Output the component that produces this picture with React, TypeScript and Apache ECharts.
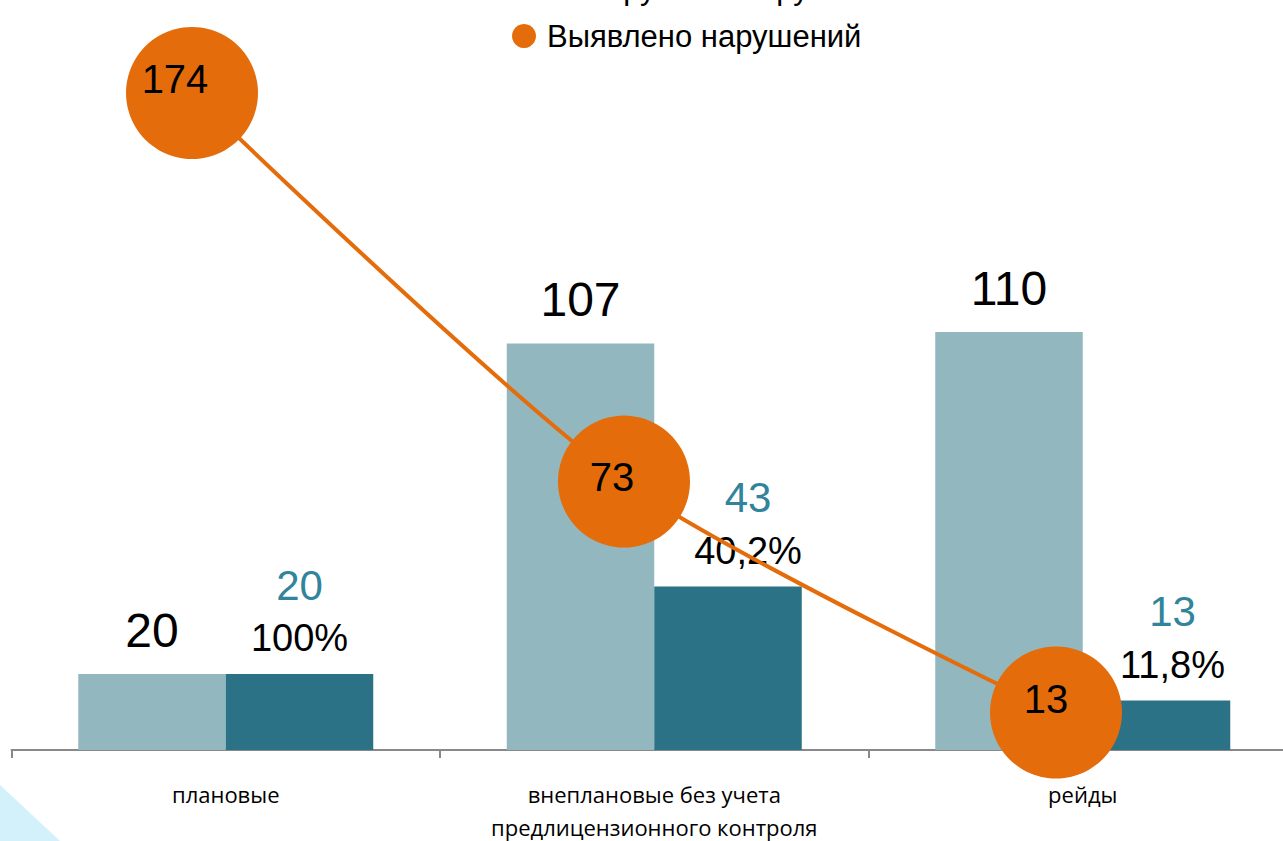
import React, { useEffect, useRef } from 'react';
import * as echarts from 'echarts';

const categories = ['плановые', 'внеплановые без учета\nпредлицензионного контроля', 'рейды'];
const inspections = [20, 107, 110];
const withViolations = [20, 43, 13];
const shareLabels = ['100%', '40,2%', '11,8%'];
const violations = [174, 73, 13];
const seriesNames = ['Проведено проверок', 'Обнаружены нарушения', 'Выявлено нарушений'];

const numFont = '"Liberation Sans", Arial, sans-serif';
const darkShift = [0, 20, 16];
const circleLabelShift = [[-17, -14], [-12, -5], [-10, -13]];
const smallSquare = 'path://M0,0M24,24M5,5h14v14h-14z';

function buildOption() {
  return {
    animation: false,
    backgroundColor: '#ffffff',
    graphic: [
      {
        type: 'polygon',
        z: -10,
        shape: { points: [[0, 785], [60, 841], [0, 841]] },
        style: { fill: '#D3F1FB' },
      },
    ],
    legend: {
      orient: 'vertical',
      left: 507,
      top: -81,
      itemWidth: 36,
      itemHeight: 24,
      itemGap: 16,
      selectedMode: false,
      textStyle: { fontSize: 31, fontFamily: numFont, color: '#000', lineHeight: 32 },
      data: [
        { name: seriesNames[0], icon: smallSquare },
        { name: seriesNames[1], icon: smallSquare },
        { name: seriesNames[2], icon: 'circle' },
      ],
    },
    grid: [
      { left: 11.5, width: 1285.5, top: 66, bottom: 91, containLabel: false, outerBoundsMode: 'none' },
      { left: -24, width: 1296, top: 69.9, bottom: 78.5, containLabel: false, outerBoundsMode: 'none' },
    ],
    xAxis: [
      {
        type: 'category',
        gridIndex: 0,
        data: categories,
        axisLine: { lineStyle: { color: '#898989', width: 2 } },
        axisTick: { show: true, length: 8, lineStyle: { color: '#898989', width: 2 } },
        axisLabel: {
          interval: 0,
          fontSize: 22,
          fontFamily: '"Open Sans", sans-serif',
          color: '#000',
          lineHeight: 33,
          margin: 27,
        },
      },
      { type: 'category', gridIndex: 1, data: categories, show: false },
    ],
    yAxis: [
      { type: 'value', gridIndex: 0, min: 0, max: 180, show: false, splitLine: { show: false } },
      { type: 'value', gridIndex: 1, min: 0, max: 180, show: false, splitLine: { show: false } },
    ],
    series: [
      {
        name: seriesNames[0],
        type: 'bar',
        data: inspections,
        barWidth: 147.5,
        barGap: '0%',
        itemStyle: { color: '#93B7BF' },
        label: { show: true, position: 'top', distance: 20, fontSize: 48, fontFamily: numFont, color: '#000' },
      },
      {
        name: seriesNames[1],
        type: 'bar',
        barWidth: 147.5,
        barGap: '0%',
        data: withViolations.map((v, i) => ({
          value: v,
          label: { offset: [darkShift[i], 0], formatter: `{t|${v}}\n{p|${shareLabels[i]}}` },
        })),
        itemStyle: { color: '#2B7286' },
        label: {
          show: true,
          position: 'top',
          distance: 11,
          rich: {
            t: { fontSize: 42, color: '#31849B', fontFamily: numFont, lineHeight: 56 },
            p: { fontSize: 38, color: '#000', fontFamily: numFont, lineHeight: 50 },
          },
        },
      },
      {
        name: seriesNames[2],
        type: 'line',
        xAxisIndex: 1,
        yAxisIndex: 1,
        z: 5,
        smooth: 0.25,
        symbol: 'circle',
        symbolSize: 132,
        lineStyle: { color: '#E46C0A', width: 4 },
        itemStyle: { color: '#E46C0A' },
        data: violations.map((v, i) => ({ value: v, label: { offset: circleLabelShift[i] } })),
        label: { show: true, position: 'inside', fontSize: 40, fontFamily: numFont, color: '#000' },
      },
    ],
  };
}

export default function App() {
  const ref = useRef<HTMLDivElement>(null);
  useEffect(() => {
    const chart = echarts.init(ref.current as HTMLDivElement, null, { renderer: 'svg' });
    chart.setOption(buildOption() as any);
    return () => chart.dispose();
  }, []);
  return (
    <div
      ref={ref}
      style={{ position: 'fixed', left: 0, top: 0, width: 1283, height: 841, background: '#fff' }}
    />
  );
}
